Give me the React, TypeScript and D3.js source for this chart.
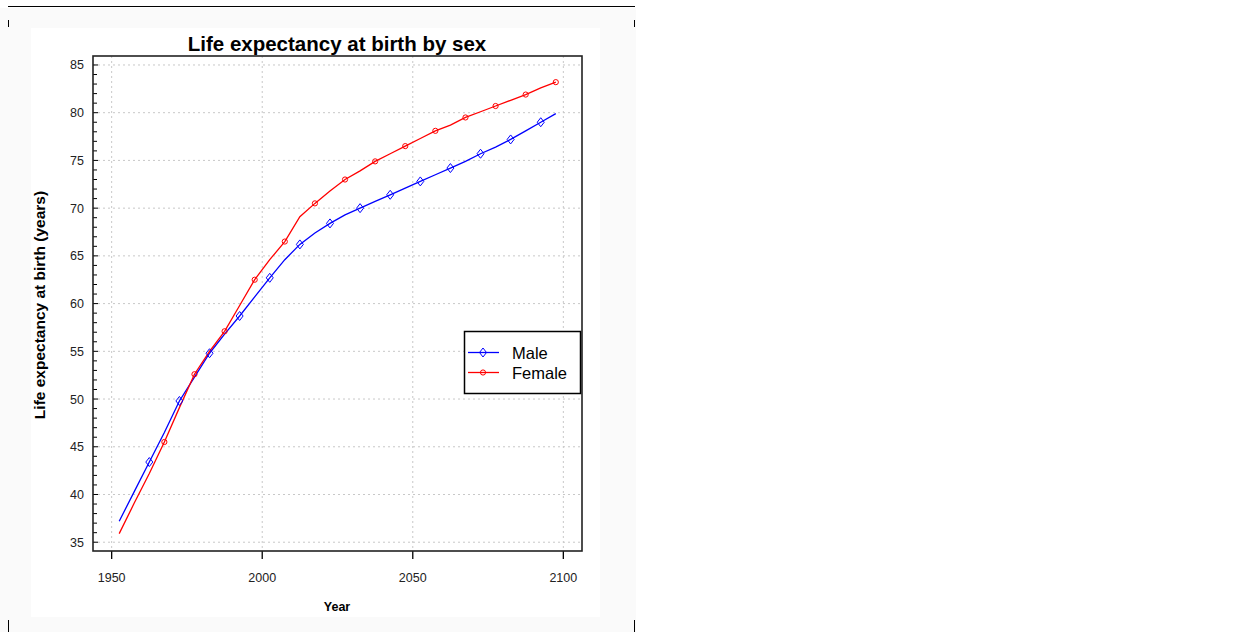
import React from "react";
import * as d3 from "d3";

const years = d3.range(30).map((i) => 1952.5 + i * 5);
const male = [
  37.2, 40.3, 43.4, 46.5, 49.8, 52.3, 54.8, 56.8, 58.7, 60.7, 62.7, 64.6, 66.2, 67.4, 68.4,
  69.3, 70.0, 70.7, 71.4, 72.1, 72.8, 73.5, 74.2, 74.9, 75.7, 76.4, 77.2, 78.1, 79.0, 79.9,
];
const female = [
  35.9, 39.1, 42.2, 45.5, 49.1, 52.6, 55.0, 57.1, 59.8, 62.5, 64.6, 66.5, 69.1, 70.5, 71.8,
  73.0, 73.9, 74.9, 75.7, 76.5, 77.3, 78.1, 78.7, 79.5, 80.1, 80.7, 81.3, 81.9, 82.6, 83.2,
];
const xTicks = [1950, 2000, 2050, 2100];
const yTicks = [35, 40, 45, 50, 55, 60, 65, 70, 75, 80, 85];

const font = "'Liberation Sans', Arial, sans-serif";

const left = 93;
const right = 582;
const top = 56;
const bottom = 551;

const App = () => {
  const x = d3.scaleLinear().domain([1943.8, 2106.2]).range([left, right]);
  const y = d3.scaleLinear().domain([34.08, 85.94]).range([bottom, top]);

  const line = d3
    .line<number>()
    .x((d, i) => x(years[i]))
    .y((d) => y(d));

  const minor = d3.range(35, 86);

  const diamond = (cx: number, cy: number) =>
    `M${cx},${cy - 4.5}L${cx + 3.5},${cy}L${cx},${cy + 4.5}L${cx - 3.5},${cy}Z`;

  return (
    <svg
      width={1246}
      height={632}
      style={{ position: "absolute", left: 0, top: 0 }}
      fontFamily={font}
    >
      <rect x={0} y={8} width={636} height={624} fill="#fafafa" />
      <rect x={31} y={28} width={569} height={589} fill="#ffffff" />
      <line x1={8} x2={635} y1={6.5} y2={6.5} stroke="#000" strokeWidth={1.2} />
      {[8.5, 634.5].map((lx) => (
        <g key={lx}>
          <line x1={lx} x2={lx} y1={20} y2={27} stroke="#000" />
          <line x1={lx} x2={lx} y1={620} y2={632} stroke="#000" />
        </g>
      ))}

      <text x={337} y={51} textAnchor="middle" fontSize={20.5} fontWeight="bold" fill="#000">
        Life expectancy at birth by sex
      </text>

      {/* grid */}
      {yTicks.map((t) => (
        <line
          key={"gy" + t}
          x1={left}
          x2={right}
          y1={y(t)}
          y2={y(t)}
          stroke="#c8c8c8"
          strokeDasharray="2,3"
        />
      ))}
      {xTicks.map((t) => (
        <line
          key={"gx" + t}
          x1={x(t)}
          x2={x(t)}
          y1={top}
          y2={bottom}
          stroke="#c8c8c8"
          strokeDasharray="2,3"
        />
      ))}

      {/* y ticks, inward */}
      {minor.map((t) => (
        <line
          key={"ty" + t}
          x1={left}
          x2={left + (t % 5 === 0 ? 5 : 4)}
          y1={y(t)}
          y2={y(t)}
          stroke="#000"
        />
      ))}
      {yTicks.map((t) => (
        <text key={"ly" + t} x={84} y={y(t) + 4.5} textAnchor="end" fontSize={12.5} fill="#222">
          {t}
        </text>
      ))}
      {xTicks.map((t) => (
        <g key={"tx" + t}>
          <line x1={x(t)} x2={x(t)} y1={bottom} y2={bottom + 8} stroke="#000" strokeWidth={1.3} />
          <text x={x(t)} y={581.5} textAnchor="middle" fontSize={12.5} fill="#222">
            {t}
          </text>
        </g>
      ))}

      <rect
        x={left}
        y={top}
        width={right - left}
        height={bottom - top}
        fill="none"
        stroke="#222"
        strokeWidth={1.6}
      />

      <text x={337} y={611} textAnchor="middle" fontSize={12.5} fontWeight="bold" fill="#000">
        Year
      </text>
      <text
        transform={`translate(45,305) rotate(-90)`}
        textAnchor="middle"
        fontSize={15.5}
        fontWeight="bold"
        fill="#000"
      >
        Life expectancy at birth (years)
      </text>

      {/* series */}
      <path d={line(male) || ""} fill="none" stroke="#0000ff" strokeWidth={1.3} />
      <path d={line(female) || ""} fill="none" stroke="#ff0000" strokeWidth={1.3} />
      {male.map((v, i) =>
        i >= 2 && i % 2 === 0 ? (
          <path key={"m" + i} d={diamond(x(years[i]), y(v))} fill="none" stroke="#0000ff" />
        ) : null
      )}
      {female.map((v, i) =>
        i >= 3 && i % 2 === 1 ? (
          <circle key={"f" + i} cx={x(years[i])} cy={y(v)} r={2.6} fill="none" stroke="#ff0000" />
        ) : null
      )}

      {/* legend */}
      <rect x={464.5} y={331.5} width={116} height={62} fill="#fff" stroke="#000" strokeWidth={1.5} />
      <line x1={468} x2={499} y1={352.5} y2={352.5} stroke="#0000ff" strokeWidth={1.3} />
      <path d={diamond(483, 352.5)} fill="none" stroke="#0000ff" />
      <text x={512} y={358.5} fontSize={16.5} fill="#000">
        Male
      </text>
      <line x1={468} x2={499} y1={372.5} y2={372.5} stroke="#ff0000" strokeWidth={1.3} />
      <circle cx={483} cy={372.5} r={2.6} fill="none" stroke="#ff0000" />
      <text x={512} y={378.5} fontSize={16.5} fill="#000">
        Female
      </text>
    </svg>
  );
};

export default App;
